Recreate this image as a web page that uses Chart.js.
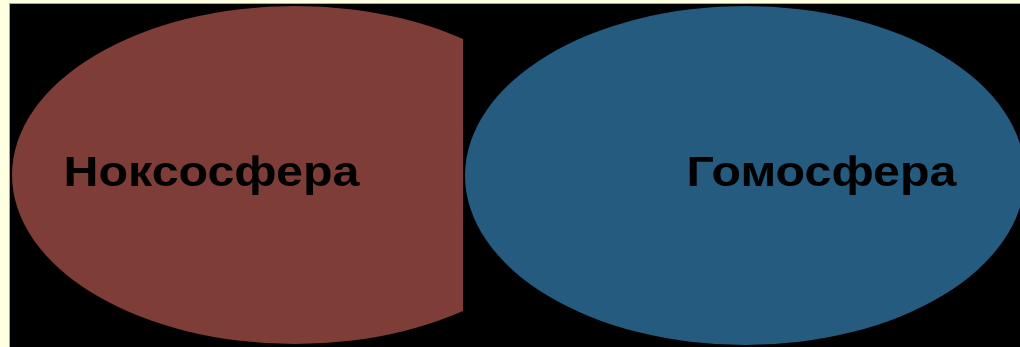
<!DOCTYPE html>
<html>
<head>
<meta charset="utf-8">
<script src="https://cdn.jsdelivr.net/npm/chart.js@4/dist/chart.umd.min.js"></script>
<style>
html,body{margin:0;padding:0;background:#ffffe2;}
#wrap{width:1020px;height:347px;position:relative;}
canvas{display:block;}
</style>
</head>
<body>
<div id="wrap"><canvas id="c" width="1020" height="347"></canvas></div>
<script>
// Data (in the chart's own x/y units)
const categories = ['Ноксосфера', 'Гомосфера'];
const centerX = [295, 745];
const centerY = [175, 175.5];
const radiusX = [283, 280];
const radiusY = [169, 169.5];
const clipRightX = [463, 1020];
const labelX = [211.5, 821.5];
const labelY = [174, 174];

const colors = ['#7e3d37', '#245b7f'];

const ellipsePlugin = {
  id: 'ellipses',
  beforeDatasetsDraw(chart) {
    const ctx = chart.ctx;
    const xs = chart.scales.x, ys = chart.scales.y;
    ctx.save();
    ctx.fillStyle = '#ffffe2';
    ctx.fillRect(0, 0, chart.width, chart.height);
    const fx = xs.getPixelForValue(10), fy = ys.getPixelForValue(4);
    ctx.fillStyle = '#a8a890';
    ctx.fillRect(fx - 1, fy - 1, chart.width, chart.height);
    ctx.fillStyle = '#000000';
    ctx.fillRect(fx, fy, chart.width, chart.height);
    ctx.restore();

    categories.forEach((cat, i) => {
      const cx = xs.getPixelForValue(centerX[i]);
      const cy = ys.getPixelForValue(centerY[i]);
      const rx = Math.abs(xs.getPixelForValue(centerX[i] + radiusX[i]) - cx);
      const ry = Math.abs(ys.getPixelForValue(centerY[i] + radiusY[i]) - cy);
      const clip = xs.getPixelForValue(clipRightX[i]);
      ctx.save();
      ctx.beginPath();
      ctx.rect(fx, fy, clip - fx, chart.height);
      ctx.clip();
      ctx.beginPath();
      ctx.ellipse(cx, cy, rx, ry, 0, 0, Math.PI * 2);
      ctx.fillStyle = chart.data.datasets[0].backgroundColor[i];
      ctx.fill();
      ctx.restore();

      ctx.save();
      ctx.fillStyle = '#000000';
      ctx.font = 'bold 43px "Liberation Sans", Arial, sans-serif';
      ctx.textAlign = 'center';
      ctx.textBaseline = 'middle';
      ctx.translate(xs.getPixelForValue(labelX[i]), ys.getPixelForValue(labelY[i]));
      ctx.scale(1.125, 1);
      ctx.fillText(cat, 0, 0);
      ctx.restore();
    });
  }
};

new Chart(document.getElementById('c'), {
  type: 'scatter',
  data: {
    labels: categories,
    datasets: [{
      data: categories.map((c, i) => ({ x: centerX[i], y: centerY[i] })),
      backgroundColor: colors,
      pointRadius: 0,
      pointHoverRadius: 0
    }]
  },
  options: {
    responsive: false,
    animation: false,
    events: [],
    layout: { padding: 0 },
    plugins: { legend: { display: false }, tooltip: { enabled: false } },
    scales: {
      x: { type: 'linear', min: 0, max: 1020, display: false },
      y: { type: 'linear', min: 0, max: 347, reverse: true, display: false }
    }
  },
  plugins: [ellipsePlugin]
});
</script>
</body>
</html>
